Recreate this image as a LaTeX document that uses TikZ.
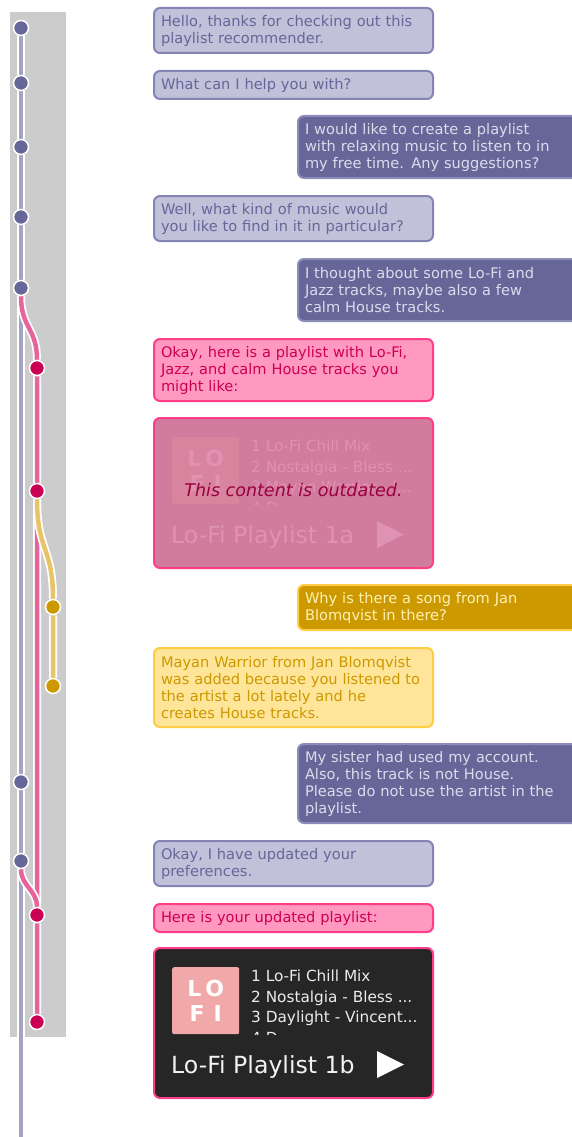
\documentclass[tikz,border=0pt]{standalone}
\usepackage{fontspec}
\setmainfont{DejaVu Sans}
\usepackage{tikz}
\usetikzlibrary{positioning, backgrounds}

\definecolor{bandgray}{HTML}{CCCCCC}
\definecolor{botdot}{HTML}{666699}
\definecolor{bottrack}{HTML}{A3A3C4}
\definecolor{recdot}{HTML}{CC0052}
\definecolor{rectrack}{HTML}{E6649A}
\definecolor{askdot}{HTML}{CC9900}
\definecolor{asktrack}{HTML}{E8C468}
\definecolor{botfill}{HTML}{C1C1D9}
\definecolor{botline}{HTML}{8585B5}
\definecolor{bottext}{HTML}{66669A}
\definecolor{userfill}{HTML}{666699}
\definecolor{userline}{HTML}{8C8CBA}
\definecolor{usertext}{HTML}{DCDCEC}
\definecolor{recfill}{HTML}{FF99BF}
\definecolor{recline}{HTML}{FF3D88}
\definecolor{rectext}{HTML}{CC0052}
\definecolor{askfill}{HTML}{CC9900}
\definecolor{askline}{HTML}{FFCC44}
\definecolor{asktext}{HTML}{FFF0B3}
\definecolor{whyfill}{HTML}{FFE599}
\definecolor{whytext}{HTML}{CC9900}
\definecolor{playerfill}{HTML}{262626}
\definecolor{logofill}{HTML}{F0A8A8}
\definecolor{oldfill}{HTML}{D17B9D}
\definecolor{oldlogo}{HTML}{D8849F}
\definecolor{oldtext}{HTML}{DF92B2}
\definecolor{oldnote}{HTML}{99003D}

\newcommand{\msgfont}{\fontsize{14.6}{17}\selectfont}

\begin{document}
\begin{tikzpicture}[x=1pt, y=-1pt,
    dot/.style={circle, fill=#1, draw=white, line width=1.5pt, minimum size=15pt, inner sep=0pt},
    track/.style={draw=#1, line width=4.5pt, preaction={draw=white, line width=8pt}},
    msg/.style={rounded corners=6pt, line width=2pt, anchor=north west, outer sep=0pt,
        inner xsep=7pt, inner ysep=1pt, align=left, font=\msgfont},
    lines/.style={minimum height=#1*17pt+11pt},
    botmsg/.style={msg, fill=botfill, draw=botline, text=bottext, text width=265pt},
    usermsg/.style={msg, fill=userfill, draw=userline, text=usertext, text width=276pt},
    recmsg/.style={msg, fill=recfill, draw=recline, text=rectext, text width=265pt},
    askmsg/.style={msg, fill=askfill, draw=askline, text=asktext, text width=276pt},
    whymsg/.style={msg, fill=whyfill, draw=askline, text=whytext, text width=265pt},
    player/.style={rounded corners=6pt, line width=2pt, draw=recline, anchor=north west,
        outer sep=0pt, minimum width=279pt, minimum height=150pt},
    logo/.style={rounded corners=2pt, anchor=north west, minimum size=67pt, inner sep=0pt,
        align=center, font=\bfseries\fontsize{22}{25}\selectfont},
    songs/.style={anchor=north west, inner sep=0pt, align=left, font=\fontsize{15.3}{20.5}\selectfont},
    title/.style={anchor=base west, inner sep=0pt, font=\fontsize{23.6}{26}\selectfont}]

    \useasboundingbox (0,0) rectangle (572,1137);
    \clip (0,0) rectangle (572,1137);

    \node[dot=botdot] (b1) at (21,28) {};
    \node[dot=botdot] (b2) at (21,83) {};
    \node[dot=botdot] (b3) at (21,147) {};
    \node[dot=botdot] (b4) at (21,217) {};
    \node[dot=botdot] (b5) at (21,288) {};
    \node[dot=botdot] (b6) at (21,782) {};
    \node[dot=botdot] (b7) at (21,861) {};
    \node[dot=recdot] (p1) at (37,368) {};
    \node[dot=recdot] (p2) at (37,491) {};
    \node[dot=recdot] (p3) at (37,915) {};
    \node[dot=recdot] (p4) at (37,1022) {};
    \node[dot=askdot] (y1) at (53,607) {};
    \node[dot=askdot] (y2) at (53,686) {};
    \coordinate (tail) at (21,1137);

    \begin{scope}[on background layer]
        \fill[bandgray] (10,12) rectangle (66,1037);
        \draw[track=bottrack] (b1) -- (b2) -- (b3) -- (b4) -- (b5) -- (b6) -- (b7) -- (tail);
        \draw[track=rectrack] (b5) .. controls +(0,40) and +(0,-40) .. (p1) -- (p2) -- (p3) -- (p4);
        \draw[track=asktrack] (p2) .. controls +(0,60) and +(0,-60) .. (y1) -- (y2);
        \draw[track=rectrack] (b7) .. controls +(0,25) and +(0,-25) .. (p3);
    \end{scope}

    \node[botmsg, lines=2] (m1) at (154,8) {Hello, thanks for checking out this\\playlist recommender.};
    \node[botmsg, lines=1] (m2) at (154,71) {What can I help you with?};
    \node[usermsg, lines=3] (m3) at (298,116) {I would like to create a playlist\\with relaxing music to listen to in\\my free time. Any suggestions?};
    \node[botmsg, lines=2] (m4) at (154,196) {Well, what kind of music would\\you like to find in it in particular?};
    \node[usermsg, lines=3] (m5) at (298,259) {I thought about some Lo-Fi and\\Jazz tracks, maybe also a few\\calm House tracks.};
    \node[recmsg, lines=3] (m6) at (154,339) {Okay, here is a playlist with Lo-Fi,\\Jazz, and calm House tracks you\\might like:};

    \node[player, fill=oldfill] (oldplayer) at (154,418) {};
    \node[logo, fill=oldlogo, text=oldtext] (oldcover) at (172,437) {L\hspace{4pt}O\\F\hspace{9pt}I};
    \begin{scope}
        \clip (248,435) rectangle (432,504);
        \node[songs, text=oldtext] (oldsongs) at (251,440) {1 Lo-Fi Chill Mix\\2 Nostalgia - Bless ...\\3 Mayan Warrior - J...\\4 D...};
    \end{scope}
    \node[title, text=oldtext] (oldtitle) at (171,543) {Lo-Fi Playlist 1a};
    \fill[oldtext] (377,521) -- (377,548) -- (404,534.5) -- cycle;
    \node[font=\itshape\fontsize{17.5}{20}\selectfont, text=oldnote, yshift=3pt] (outdated) at (oldplayer.center) {This content is outdated.};

    \node[askmsg, lines=2] (m7) at (298,585) {Why is there a song from Jan\\Blomqvist in there?};
    \node[whymsg, lines=4] (m8) at (154,648) {Mayan Warrior from Jan Blomqvist\\was added because you listened to\\the artist a lot lately and he\\creates House tracks.};
    \node[usermsg, lines=4] (m9) at (298,744) {My sister had used my account.\\Also, this track is not House.\\Please do not use the artist in the\\playlist.};
    \node[botmsg, lines=2] (m10) at (154,841) {Okay, I have updated your\\preferences.};
    \node[recmsg, lines=1] (m11) at (154,904) {Here is your updated playlist:};

    \node[player, fill=playerfill] (newplayer) at (154,948) {};
    \node[logo, fill=logofill, text=white] (newcover) at (172,967) {L\hspace{4pt}O\\F\hspace{9pt}I};
    \begin{scope}
        \clip (248,965) rectangle (432,1034);
        \node[songs, text=white!92!black] (newsongs) at (251,970) {1 Lo-Fi Chill Mix\\2 Nostalgia - Bless ...\\3 Daylight - Vincent...\\4 D...};
    \end{scope}
    \node[title, text=white!95!black] (newtitle) at (171,1073) {Lo-Fi Playlist 1b};
    \fill[white] (377,1051) -- (377,1078) -- (404,1064.5) -- cycle;
\end{tikzpicture}
\end{document}
